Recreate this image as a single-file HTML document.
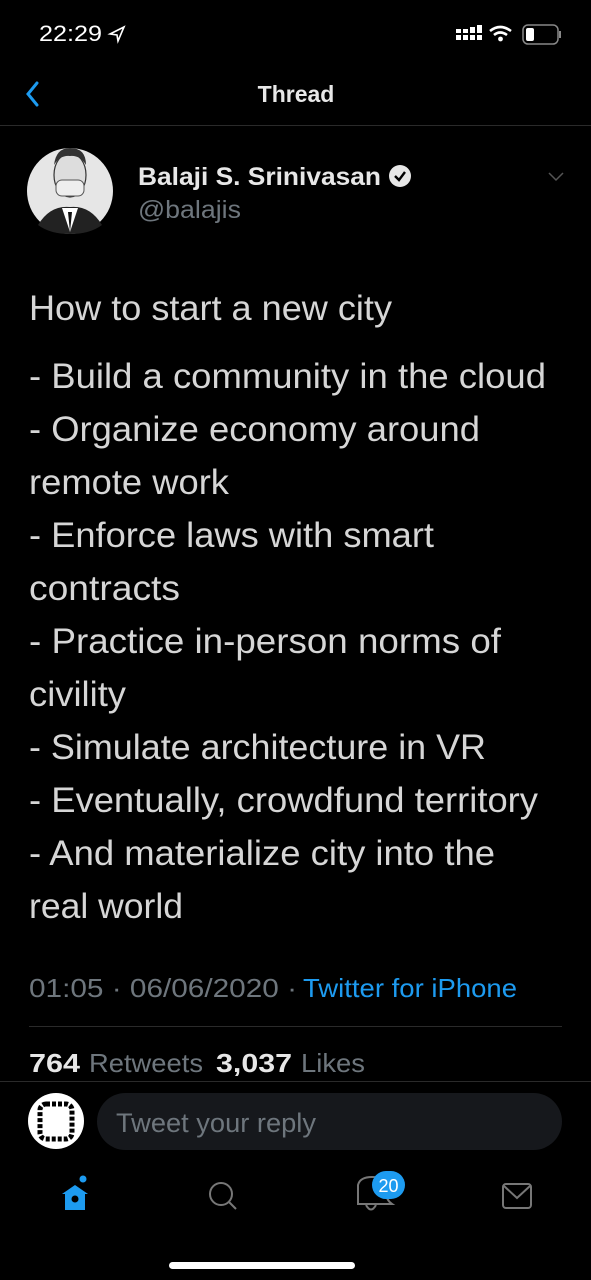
<!DOCTYPE html>
<html><head><meta charset="utf-8"><style>
html,body{margin:0;padding:0;background:#000;}
body{width:591px;height:1280px;overflow:hidden;position:relative;}
svg{position:absolute;left:0;top:0;}
text{font-family:"Liberation Sans",sans-serif;}
</style></head><body>
<svg width="591" height="1280" viewBox="0 0 591 1280">
<rect width="591" height="1280" fill="#000"/>
<!-- status bar -->
<text x="39" y="41" font-size="22" fill="#fff" textLength="63" lengthAdjust="spacingAndGlyphs">22:29</text>
<path d="M110 34 L124 27 L118 41 L117 35 Z" fill="none" stroke="#fff" stroke-width="1.6"/>
<g fill="#fff">
<rect x="456" y="29" width="5" height="4"/><rect x="463" y="29" width="5" height="4"/><rect x="470" y="27" width="5" height="6"/><rect x="477" y="25" width="5" height="8"/>
<rect x="456" y="35" width="5" height="5"/><rect x="463" y="35" width="5" height="5"/><rect x="470" y="35" width="5" height="5"/><rect x="477" y="35" width="5" height="5"/>
</g>
<path d="M490 31 Q500 23 511 31 M494 35 Q500 30 507 35" stroke="#fff" stroke-width="2.6" fill="none"/>
<circle cx="500.5" cy="39" r="2.4" fill="#fff"/>
<rect x="523" y="25" width="35" height="19" rx="5" fill="none" stroke="#888" stroke-width="1.5"/>
<rect x="526" y="28" width="8" height="13" rx="2" fill="#fff"/>
<rect x="559" y="31" width="2" height="7" fill="#888"/>
<!-- nav -->
<path d="M37 83 L28 94 L37 105" stroke="#1d9bf0" stroke-width="3" fill="none" stroke-linecap="round"/>
<text x="296" y="102" font-size="23" font-weight="bold" fill="#e7e7e7" text-anchor="middle">Thread</text>
<rect x="0" y="125" width="591" height="1" fill="#2a2a2a"/>
<!-- avatar -->
<circle cx="70" cy="191" r="43" fill="#e6e6e6"/>
<path d="M38 225 Q50 205 70 207 Q90 205 102 225 Q90 234 70 234 Q50 234 38 225Z" fill="#222"/>
<path d="M62 208 L70 232 L78 208Z" fill="#fff"/><path d="M68 212 L70 232 L72 212Z" fill="#111"/>
<ellipse cx="70" cy="175" rx="16" ry="22" fill="#ddd" stroke="#333" stroke-width="1.2"/>
<path d="M54 165 Q56 148 70 148 Q86 148 86 165 Q80 155 70 156 Q60 155 54 165Z" fill="#333"/>
<rect x="56" y="180" width="28" height="16" rx="6" fill="#eee" stroke="#555"/>
<!-- name -->
<text x="138" y="185" font-size="25" font-weight="bold" fill="#e7e7e7" textLength="243" lengthAdjust="spacingAndGlyphs">Balaji S. Srinivasan</text>
<circle cx="400" cy="176" r="11" fill="#e7e7e7"/>
<path d="M395 176 L399 180 L405 172" stroke="#000" stroke-width="2.4" fill="none"/>
<text x="138" y="218" font-size="25" fill="#6e767d" textLength="103" lengthAdjust="spacingAndGlyphs">@balajis</text>
<path d="M549 173 L556 180 L563 173" stroke="#555" stroke-width="1.5" fill="none"/>
<!-- body -->
<g font-size="35" fill="#d6d6d6">
<text x="29" y="320" textLength="363" lengthAdjust="spacingAndGlyphs">How to start a new city</text>
<text x="29" y="388" textLength="517" lengthAdjust="spacingAndGlyphs">- Build a community in the cloud</text>
<text x="29" y="441" textLength="451" lengthAdjust="spacingAndGlyphs">- Organize economy around</text>
<text x="29" y="494" textLength="200" lengthAdjust="spacingAndGlyphs">remote work</text>
<text x="29" y="547" textLength="405" lengthAdjust="spacingAndGlyphs">- Enforce laws with smart</text>
<text x="29" y="600" textLength="151" lengthAdjust="spacingAndGlyphs">contracts</text>
<text x="29" y="653" textLength="472" lengthAdjust="spacingAndGlyphs">- Practice in-person norms of</text>
<text x="29" y="706" textLength="97" lengthAdjust="spacingAndGlyphs">civility</text>
<text x="29" y="759" textLength="457" lengthAdjust="spacingAndGlyphs">- Simulate architecture in VR</text>
<text x="29" y="812" textLength="509" lengthAdjust="spacingAndGlyphs">- Eventually, crowdfund territory</text>
<text x="29" y="865" textLength="466" lengthAdjust="spacingAndGlyphs">- And materialize city into the</text>
<text x="29" y="918" textLength="154" lengthAdjust="spacingAndGlyphs">real world</text>
</g>
<text x="29" y="997" font-size="26" fill="#6e767d" textLength="268" lengthAdjust="spacingAndGlyphs">01:05 · 06/06/2020 ·</text>
<text x="303" y="997" font-size="26" fill="#1d9bf0" textLength="214" lengthAdjust="spacingAndGlyphs">Twitter for iPhone</text>
<rect x="29" y="1026" width="533" height="1" fill="#2a2a2a"/>
<text x="29" y="1072" font-size="26" font-weight="bold" fill="#e7e7e7" textLength="51" lengthAdjust="spacingAndGlyphs">764</text>
<text x="89" y="1072" font-size="26" fill="#6e767d" textLength="114" lengthAdjust="spacingAndGlyphs">Retweets</text>
<text x="216" y="1072" font-size="26" font-weight="bold" fill="#e7e7e7" textLength="76" lengthAdjust="spacingAndGlyphs">3,037</text>
<text x="301" y="1072" font-size="26" fill="#6e767d" textLength="64" lengthAdjust="spacingAndGlyphs">Likes</text>
<rect x="0" y="1081" width="591" height="1" fill="#2a2a2a"/>
<!-- reply -->
<circle cx="56" cy="1121" r="28" fill="#fff"/>
<rect x="40" y="1104" width="32" height="35" rx="6" fill="none" stroke="#000" stroke-width="5" stroke-dasharray="4 2"/>
<rect x="97" y="1093" width="465" height="57" rx="28.5" fill="#16181c"/>
<text x="116" y="1132" font-size="27" fill="#6e767d" textLength="200" lengthAdjust="spacingAndGlyphs">Tweet your reply</text>
<!-- tab bar -->
<path d="M62 1194 L75 1185 L88 1194 L85 1194 L85 1210 L65 1210 L65 1194Z" fill="#1d9bf0"/>
<circle cx="75" cy="1199" r="3.5" fill="#000"/>
<circle cx="83" cy="1179" r="3.5" fill="#1d9bf0"/>
<circle cx="221" cy="1194" r="11" fill="none" stroke="#777" stroke-width="2"/>
<path d="M229 1202 L236 1209" stroke="#777" stroke-width="2"/>
<path d="M358 1204 Q358 1190 358 1185 Q360 1177 372 1177 Q384 1177 386 1185 L386 1192 Q386 1200 392 1204 Z" fill="none" stroke="#777" stroke-width="2"/>
<path d="M366 1205 Q371 1214 376 1205" stroke="#777" stroke-width="2" fill="none"/>
<rect x="372" y="1171" width="33" height="28" rx="14" fill="#1d9bf0"/>
<text x="388.5" y="1192" font-size="18" fill="#fff" text-anchor="middle">20</text>
<rect x="503" y="1184" width="28" height="24" rx="3" fill="none" stroke="#777" stroke-width="2"/>
<path d="M504 1186 L517 1198 L530 1186" stroke="#777" stroke-width="2" fill="none"/>
<rect x="169" y="1262" width="186" height="7" rx="3.5" fill="#fff"/>
</svg>
</body></html>
